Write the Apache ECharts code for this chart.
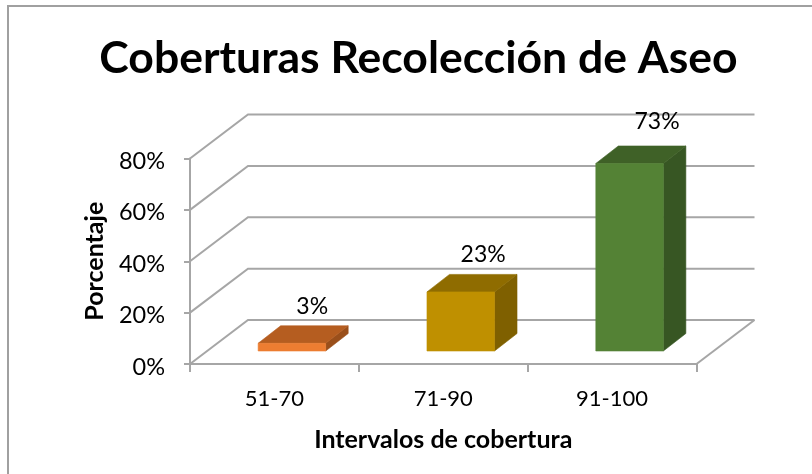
<!DOCTYPE html>
<html>
<head>
<meta charset="utf-8">
<style>html,body{margin:0;padding:0;background:#fff}#c{width:812px;height:474px}</style>
<script src="https://cdn.jsdelivr.net/npm/echarts@6/dist/echarts.min.js"></script>
</head>
<body>
<div id="c"></div>
<script>
const categories = ['51-70', '71-90', '91-100'];
const values = [3, 23, 73];
const wallTicks = [0, 20, 40, 60, 80];
const frontColors = ['#ED7D31', '#BF9000', '#548235'];
const topColors = ['#B55D20', '#8F6C00', '#3F6127'];
const sideColors = ['#9A4F1B', '#7F6000', '#375623'];

const FONT = 'Lato';
const GRID = '#A6A6A6';
const DEPTH_X = 58, DEPTH_Y = 44;       // floor depth of the 3D box
const BAR_DX = 22.5, BAR_DY = 17.5;     // depth of a bar
const OFF_X = 17.5, OFF_Y = 13;         // bar set back from the front edge
const BAR_W = 0.4;                      // share of a category band

function poly(pts, fill, stroke) {
  return { type: 'polygon', shape: { points: pts },
    style: { fill: fill, stroke: stroke || fill, lineWidth: 0.6 } };
}

const option = {
  animation: false,
  backgroundColor: '#fff',
  title: {
    text: 'Coberturas Recolección de Aseo',
    left: 413.5, top: 31, textAlign: 'center',
    textStyle: { fontFamily: FONT, fontSize: 44.5, fontWeight: 'bold', color: '#000' }
  },
  graphic: [{
    type: 'rect', silent: true, z: -1,
    shape: { x: 8, y: 6, width: 830, height: 490 },
    style: { fill: 'none', stroke: '#A0A0A0', lineWidth: 2 }
  }],
  grid: { left: 190, top: 158.5, width: 506.5, height: 205.5 },
  xAxis: {
    type: 'category', data: categories,
    axisLine: { lineStyle: { color: GRID, width: 2 } },
    axisTick: { show: true, alignWithLabel: false, length: 8, lineStyle: { color: GRID, width: 2 } },
    axisLabel: { fontFamily: FONT, fontSize: 22, color: '#000', margin: 24 },
    name: 'Intervalos de cobertura', nameLocation: 'middle', nameGap: 76, nameMoveOverlap: false,
    nameTextStyle: { fontFamily: FONT, fontSize: 25, fontWeight: 'bold', color: '#000', verticalAlign: 'middle' }
  },
  yAxis: {
    type: 'value', min: 0, max: 80, interval: 20,
    axisLine: { show: true, lineStyle: { color: GRID, width: 2 } },
    axisTick: { show: true, length: 6, lineStyle: { color: GRID, width: 2 } },
    splitLine: { show: false },
    axisLabel: { fontFamily: FONT, fontSize: 23.5, color: '#000', margin: 25, formatter: '{value}%', padding: [0, 0, 0, 0], verticalAlign: 'top', lineHeight: 6 },
    name: 'Porcentaje', nameLocation: 'middle', nameGap: 95, nameMoveOverlap: false,
    nameTextStyle: { fontFamily: FONT, fontSize: 25, fontWeight: 'bold', color: '#000', verticalAlign: 'middle' }
  },
  series: [
    {
      type: 'custom', z: 1, silent: true,
      data: wallTicks.map(v => [v]),
      encode: { y: 0 },
      renderItem(params, api) {
        const cs = params.coordSys;
        const v = api.value(0);
        const y = api.coord([0, v])[1];
        const style = { stroke: GRID, lineWidth: 2, fill: 'none' };
        const children = [{
          type: 'polyline',
          shape: { points: [[cs.x, y], [cs.x + DEPTH_X, y - DEPTH_Y], [cs.x + cs.width + DEPTH_X, y - DEPTH_Y]] },
          style
        }];
        if (v === 0) {
          children.push({
            type: 'line',
            shape: { x1: cs.x + cs.width, y1: y, x2: cs.x + cs.width + DEPTH_X, y2: y - DEPTH_Y },
            style
          });
        }
        return { type: 'group', children };
      }
    },
    {
      type: 'custom', z: 2, silent: true,
      data: values.map((v, i) => [i, v]),
      encode: { x: 0, y: 1 },
      renderItem(params, api) {
        const i = api.value(0), v = api.value(1);
        const top = api.coord([i, v]);
        const base = api.coord([i, 0]);
        const w = api.size([1, 0])[0] * BAR_W;
        const x0 = top[0] + OFF_X - w / 2, x1 = x0 + w;
        const yb = base[1] - OFF_Y, yt = top[1] - OFF_Y;
        const h = yb - yt;
        return {
          type: 'group',
          children: [
            poly([[x1, yb], [x1 + BAR_DX, yb - BAR_DY], [x1 + BAR_DX, yt - BAR_DY], [x1, yt]], sideColors[i]),
            poly([[x0, yt], [x1, yt], [x1 + BAR_DX, yt - BAR_DY], [x0 + BAR_DX, yt - BAR_DY]], topColors[i]),
            poly([[x0, yb], [x1, yb], [x1, yt], [x0, yt]], frontColors[i]),
            { type: 'text', z2: 10,
              style: { text: v + '%', x: x0 + w / 2 + 20 + h * 0.04, y: yb - h * 1.03 - 36,
                align: 'center', verticalAlign: 'middle',
                font: '23px ' + FONT, fill: '#000' } }
          ]
        };
      }
    }
  ]
};
const chart = echarts.init(document.getElementById('c'), null, { renderer: 'canvas' });
chart.setOption(option);
</script>
</body>
</html>
